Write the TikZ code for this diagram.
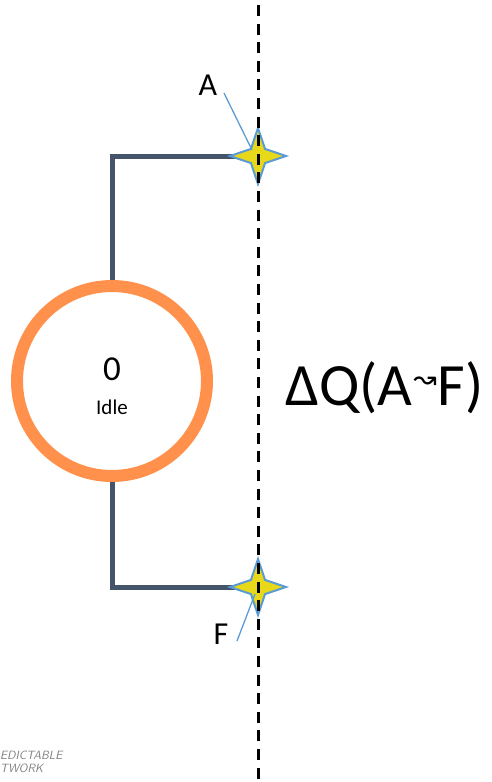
\documentclass[tikz,border=0pt]{standalone}
\usepackage{fontspec}
\setmainfont{Carlito}
\newfontfamily\dejavu{DejaVu Sans}
\usetikzlibrary{shapes.geometric}
\definecolor{ringorange}{HTML}{FF914D}
\definecolor{slate}{HTML}{44546A}
\definecolor{leaderblue}{HTML}{5B9BD5}
\definecolor{staryellow}{HTML}{E8D81A}
\tikzset{
  wire/.style={draw=slate,line width=5pt},
  sparkle/.style={star,star points=4,star point ratio=2.8,minimum size=56pt,inner sep=0pt,
    fill=staryellow,draw=leaderblue,line width=2pt},
  leader/.style={draw=leaderblue,line width=1.3pt},
  lbl/.style={font=\fontsize{32}{32}\selectfont,inner sep=0pt},
}
\begin{document}
\begin{tikzpicture}[x=1pt,y=-1pt]
\useasboundingbox (0,0) rectangle (491,782);
\node[circle,draw=ringorange,line width=12pt,minimum size=190pt,inner sep=0pt] (state) at (112,381) {};
\node[font=\fontsize{35}{35}\selectfont] (num) at (112,369) {0};
\node[font=\fontsize{21}{21}\selectfont] (idle) at (112,407) {Idle};
\coordinate (pA) at (258,156);
\coordinate (pF) at (258,587);
\draw[wire] (state.north) |- (pA);
\draw[wire] (state.south) |- (pF);
\node[sparkle] (sA) at (pA) {};
\node[sparkle] (sF) at (pF) {};
\coordinate (top) at (258,5);
\coordinate (bot) at (258,782);
\draw[line width=3pt,dash pattern=on 11pt off 7.6pt] (top) -- (bot);
\node[lbl] (A) at (208,85) {A};
\node[lbl] (F) at (221,634) {F};
\coordinate (aEnd) at (252,150);
\coordinate (fEnd) at (255,594);
\coordinate (aStart) at (224,93);
\coordinate (fStart) at (237,641);
\draw[leader] (aStart) -- (aEnd);
\draw[leader] (fStart) -- (fEnd);
\node[anchor=west,inner sep=0pt,font=\fontsize{60}{60}\selectfont] (dq) at (285,388)
  {ΔQ(A\hspace{1pt}\raisebox{17pt}{\dejavu\fontsize{28}{28}\selectfont ↝}\hspace{1pt}F)};
\node[anchor=north west,inner sep=0pt,text=gray,font=\sffamily\itshape\fontsize{12}{13}\selectfont,align=left] (wm) at (0,751) {EDICTABLE\\TWORK};
\end{tikzpicture}
\end{document}
